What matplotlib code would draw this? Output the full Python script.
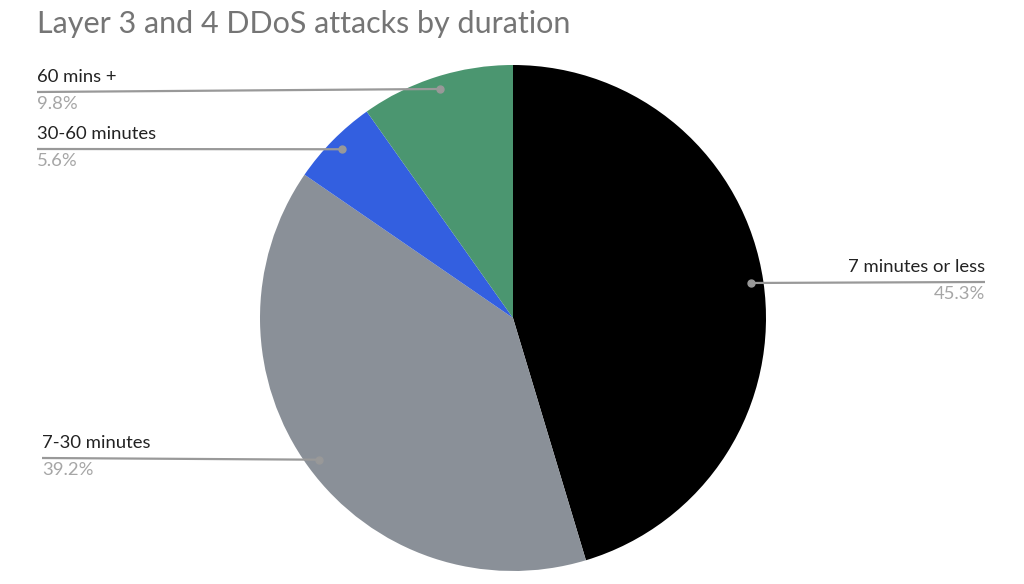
import numpy as np
import matplotlib.pyplot as plt

plt.rcParams['font.family'] = ['Lato', 'DejaVu Sans']

labels = ["7 minutes or less", "7-30 minutes", "30-60 minutes", "60 mins +"]
shares = [45.3, 39.2, 5.6, 9.8]
colors = ["#000000", "#8a9098", "#335fe0", "#4b9670"]

W, H = 1024, 584
cx, cy, R = 513, 318, 253

fig = plt.figure(figsize=(W / 100, H / 100), dpi=100)
ax = fig.add_axes([0, 0, 1, 1])


def px(x, y):
    # pixel position -> data coords
    return (x - cx) / R, (cy - y) / R


ax.pie(shares, colors=colors, startangle=90, counterclock=False,
       radius=1, center=(0, 0), frame=True,
       wedgeprops=dict(linewidth=0))
ax.set_xlim(-cx / R, (W - cx) / R)
ax.set_ylim((cy - H) / R, cy / R)
ax.set_aspect('equal')
ax.axis('off')

# leader line end points (pixels): x end, y end, text side
ends = {
    "7 minutes or less": (985, 282, 'right'),
    "7-30 minutes": (42, 458, 'left'),
    "30-60 minutes": (37, 149, 'left'),
    "60 mins +": (37, 92, 'left'),
}

total = sum(shares)
start = 90.0
for lab, v in zip(labels, shares):
    sweep = v / total * 360
    mid = np.radians(start - sweep / 2)
    start -= sweep
    dx, dy = 0.95 * np.cos(mid), 0.95 * np.sin(mid)
    ex, ey, side = ends[lab]
    exd, eyd = px(ex, ey)
    ax.plot([dx, exd], [dy, eyd], color="#999999", lw=1.6, solid_capstyle='butt', zorder=3)
    ax.plot(dx, dy, 'o', color="#999999", ms=5, zorder=4)
    ax.text(exd, eyd + 7 / R, lab, ha=side, va='bottom', fontsize=13.3, color="#222222")
    ax.text(exd, eyd - 4 / R, "{:.1f}%".format(v), ha=side, va='top', fontsize=13.3, color="#a6a6a6")

fig.text(37 / W, 1 - 24 / H, "Layer 3 and 4 DDoS attacks by duration", ha='left', va='center',
         fontsize=22, color="#757575")

fig.savefig("out.png", dpi=100)
